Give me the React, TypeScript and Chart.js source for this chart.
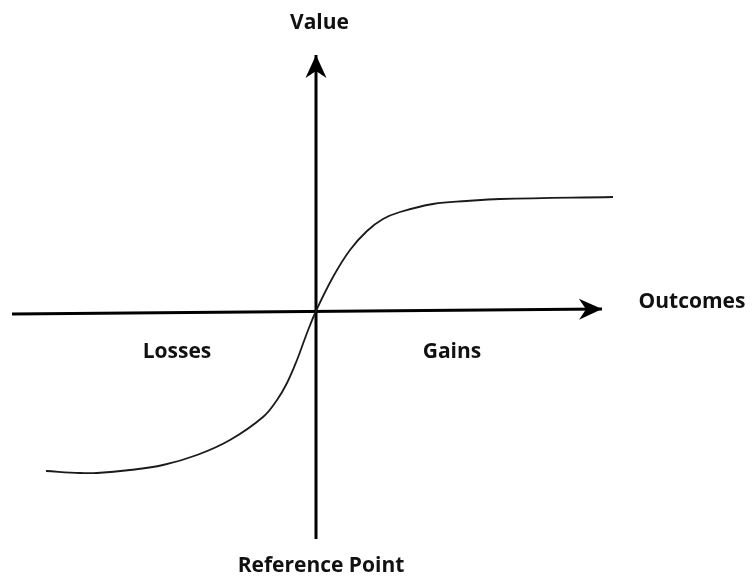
import React, { useEffect, useRef } from "react";
import { Chart, registerables } from "chart.js";

Chart.register(...registerables);

// Value function curve (outcome, value)
const outcomes = [-27.0, -23.6, -21.9, -18.6, -15.3, -11.9, -8.6, -5.3, -3.9, -2.9, -1.9, -0.9, 0, 1.7, 3.4, 5.1, 6.7, 8.4, 11.7, 15.1, 18.4, 29.7];
const values = [-15.9, -16.1, -16.1, -15.8, -15.3, -14.3, -12.8, -10.5, -8.8, -7.1, -4.8, -2.1, 0.1, 3.5, 6.2, 8.1, 9.3, 10.0, 10.8, 11.1, 11.3, 11.5];

// Axis lines (start, end) – arrow at end
const hAxisX = [-30.4, 28.6];
const hAxisY = [-0.2, 0.3];
const vAxisX = [0, 0];
const vAxisY = [-22.7, 25.7];

const labelTexts = ["Value", "Outcomes", "Losses", "Gains", "Reference Point"];

const W = 753;
const H = 577;

export default function App() {
  const ref = useRef<HTMLCanvasElement | null>(null);

  useEffect(() => {
    document.body.style.margin = "0";
    const canvas = ref.current;
    if (!canvas) return;

    const labelPos: Record<string, [number, number]> = {
      "Value": [319.5, 29],
      "Outcomes": [692, 308],
      "Losses": [177, 358],
      "Gains": [452, 358],
      "Reference Point": [321, 572],
    };

    const arrowPlugin = {
      id: "arrowsAndLabels",
      afterDatasetsDraw(chart: any) {
        const ctx = chart.ctx;
        [1, 2].forEach((i) => {
          const meta = chart.getDatasetMeta(i);
          const pts = meta.data;
          const a = pts[pts.length - 2];
          const b = pts[pts.length - 1];
          const dx = b.x - a.x;
          const dy = b.y - a.y;
          const len = Math.hypot(dx, dy);
          const ux = dx / len;
          const uy = dy / len;
          const px = -uy;
          const py = ux;
          const L = 23;
          const Wd = 10.5;
          const N = 16;
          ctx.save();
          ctx.fillStyle = "#000";
          ctx.beginPath();
          ctx.moveTo(b.x, b.y);
          ctx.lineTo(b.x - ux * L + px * Wd, b.y - uy * L + py * Wd);
          ctx.lineTo(b.x - ux * N, b.y - uy * N);
          ctx.lineTo(b.x - ux * L - px * Wd, b.y - uy * L - py * Wd);
          ctx.closePath();
          ctx.fill();
          ctx.restore();
        });
        ctx.save();
        ctx.fillStyle = "#111";
        ctx.font = "bold 21px 'Open Sans', 'DejaVu Sans', sans-serif";
        ctx.textAlign = "center";
        ctx.textBaseline = "alphabetic";
        labelTexts.forEach((t) => {
          const p = labelPos[t];
          ctx.fillText(t, p[0], p[1]);
        });
        ctx.restore();
      },
    };

    const chart = new Chart(canvas, {
      type: "scatter",
      data: {
        datasets: [
          {
            data: outcomes.map((x, i) => ({ x, y: values[i] })),
            showLine: true,
            borderColor: "#1a1a1a",
            borderWidth: 1.8,
            pointRadius: 0,
            tension: 0.4,
            fill: false,
          },
          {
            data: hAxisX.map((x, i) => ({ x, y: hAxisY[i] })),
            showLine: true,
            borderColor: "#000",
            borderWidth: 3,
            pointRadius: 0,
          },
          {
            data: vAxisX.map((x, i) => ({ x, y: vAxisY[i] })),
            showLine: true,
            borderColor: "#000",
            borderWidth: 3,
            pointRadius: 0,
          },
        ],
      },
      options: {
        animation: false,
        responsive: false,
        layout: { padding: 0 },
        plugins: {
          legend: { display: false },
          tooltip: { enabled: false },
        },
        scales: {
          x: { type: "linear", min: -31.6, max: 43.7, display: false },
          y: { type: "linear", min: -26.5, max: 31.2, display: false },
        },
      },
      plugins: [arrowPlugin],
    } as any);

    return () => chart.destroy();
  }, []);

  return (
    <div style={{ width: W, height: H, background: "#fff" }}>
      <canvas ref={ref} width={W} height={H} style={{ display: "block" }} />
    </div>
  );
}
